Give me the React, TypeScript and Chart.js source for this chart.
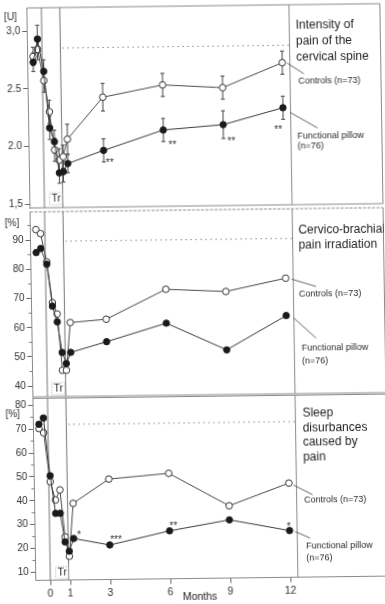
import React, { useEffect, useRef } from 'react';
import { Chart, registerables } from 'chart.js';

Chart.register(...registerables);

const FONT = "'Liberation Sans', Arial, Helvetica, sans-serif";

// ---------------- data ----------------
const MONTHS = [-0.45, -0.22, 0.07, 0.32, 0.55, 0.77, 0.97, 1.2, 3, 6, 9, 12];
const X_TICKS = [0, 1, 3, 6, 9, 12];
const TREATMENT = [0, 0.92];
const CONTROLS_LABEL = 'Controls (n=73)';
const PILLOW_LABEL = ['Functional pillow', '(n=76)'];
const X_TITLE = 'Months';
const TR_LABEL = 'Tr';

// Panel 1: intensity of pain of the cervical spine
const PAIN_TITLE = ['Intensity of', 'pain of the', 'cervical spine'];
const PAIN_UNIT = '[U]';
const PAIN_CONTROLS = [2.78, 2.84, 2.57, 2.3, 1.97, 1.88, 1.91, 2.06, 2.42, 2.52, 2.49, 2.7];
const PAIN_CONTROLS_ERR = [0.08, 0.09, 0.1, 0.1, 0.1, 0.1, 0.1, 0.13, 0.12, 0.1, 0.1, 0.1];
const PAIN_PILLOW = [2.73, 2.93, 2.65, 2.16, 2.04, 1.77, 1.78, 1.85, 1.96, 2.13, 2.17, 2.31];
const PAIN_PILLOW_ERR = [0.08, 0.12, 0.1, 0.1, 0.1, 0.09, 0.09, 0.08, 0.1, 0.1, 0.12, 0.1];
const PAIN_TICKS = [1.5, 2.0, 2.5, 3.0];
const PAIN_TICK_LABELS = ['1,5', '2.0', '2.5', '3,0'];
const PAIN_REF = 2.85;
const PAIN_SIG_MONTHS = [3, 6, 9, 12];
const PAIN_SIG_LABELS = ['**', '**', '**', '**'];

// Panel 2: cervico-brachial pain irradiation
const IRR_TITLE = ['Cervico-brachial', 'pain irradiation'];
const IRR_UNIT = '[%]';
const IRR_CONTROLS = [93.6, 92.2, 82.5, 68.5, 64.6, 45.3, 45.3, 61.6, 62.6, 72.6, 71.6, 75.9];
const IRR_PILLOW = [85.7, 87.1, 81.7, 67.3, 61.9, 51.4, 47.6, 51.4, 54.9, 61.0, 51.6, 63.1];
const IRR_TICKS = [40, 50, 60, 70, 80, 90];
const IRR_TICK_LABELS = ['40', '50', '60', '70', '80', '90'];
const IRR_MINOR = [45, 55, 65, 75, 85, 95];
const IRR_REF = 89.5;

// Panel 3: sleep disturbances caused by pain
const SLEEP_TITLE = ['Sleep', 'disurbances', 'caused by', 'pain'];
const SLEEP_UNIT = '[%]';
const SLEEP_CONTROLS = [70.2, 68.4, 47.9, 40.2, 44.4, 24.7, 16.6, 38.7, 48.7, 50.8, 36.9, 46.1];
const SLEEP_PILLOW = [72.0, 74.6, 50.4, 34.6, 34.6, 22.6, 18.7, 24.0, 21.1, 26.7, 31.0, 26.2];
const SLEEP_TICKS = [10, 20, 30, 40, 50, 60, 70, 80];
const SLEEP_TICK_LABELS = ['10', '20', '30', '40', '50', '60', '70', '80'];
const SLEEP_MINOR = [15, 25, 35, 45, 55, 65, 75];
const SLEEP_REF = 71.8;
const SLEEP_SIG_MONTHS = [1.2, 3, 6, 12];
const SLEEP_SIG_LABELS = ['*', '***', '**', '*'];

// ---------------- layout / style ----------------
const W = 385;
const H = 604;
const PLOT_LEFT = 31.5;
const PLOT_RIGHT = 293.6;
const BOX_RIGHT = 384.5;
const X_MIN = -0.725;
const X_MAX = 12.38;
const BOX_COLOR = '#8a8a8a';
const LINE_COLOR = '#3a3a3a';
const TEXT_COLOR = '#1e1e1e';

type Panel = {
  key: string;
  top: number;
  bottom: number;
  yMin: number;
  yMax: number;
  ticks: number[];
  tickLabels: string[];
  minor: number[];
  controls: number[];
  pillow: number[];
  controlsErr?: number[];
  pillowErr?: number[];
  ref: number;
  sigMonths: number[];
  sigLabels: string[];
  sigOffsets: number[][];
  unit: string;
  unitPos: number[];
  title: string[];
  titleX: number;
  titleY: number[];
  ctrlPos: number[];
  pillowPos: number[];
  leaderC: number[];
  leaderP: number[];
  trPos: number[];
  showX: boolean;
  topDashed: boolean;
};

const PANELS: Panel[] = [
  {
    key: 'pain', top: 6, bottom: 206, yMin: 1.47, yMax: 3.2,
    ticks: PAIN_TICKS, tickLabels: PAIN_TICK_LABELS, minor: [],
    controls: PAIN_CONTROLS, pillow: PAIN_PILLOW,
    controlsErr: PAIN_CONTROLS_ERR, pillowErr: PAIN_PILLOW_ERR,
    ref: PAIN_REF, sigMonths: PAIN_SIG_MONTHS, sigLabels: PAIN_SIG_LABELS,
    sigOffsets: [[6, 10], [9, 12], [8, 14], [-5, 19]],
    unit: PAIN_UNIT, unitPos: [15, 15.6],
    title: PAIN_TITLE, titleX: 300, titleY: [26.3, 42.8, 58.4],
    ctrlPos: [301.8, 82.3], pillowPos: [300, 137.1, 147.8],
    leaderC: [5, 0.5, 307.5, 75.2], leaderP: [7, 4.7, 320.4, 129.6],
    trPos: [57.8, 197], showX: false, topDashed: false,
  },
  {
    key: 'irr', top: 210, bottom: 395, yMin: 36.3, yMax: 99.66,
    ticks: IRR_TICKS, tickLabels: IRR_TICK_LABELS, minor: IRR_MINOR,
    controls: IRR_CONTROLS, pillow: IRR_PILLOW,
    ref: IRR_REF, sigMonths: [], sigLabels: [], sigOffsets: [],
    unit: IRR_UNIT, unitPos: [13.2, 221.4],
    title: IRR_TITLE, titleX: 299.4, titleY: [231.6, 246.6],
    ctrlPos: [299.1, 295.2], pillowPos: [301, 349.5, 362.9],
    leaderC: [6, 1, 316.2, 288], leaderP: [7, 2, 315.4, 339.6],
    trPos: [57, 387], showX: false, topDashed: true,
  },
  {
    key: 'sleep', top: 396.5, bottom: 578.5, yMin: 6.65, yMax: 82.85,
    ticks: SLEEP_TICKS, tickLabels: SLEEP_TICK_LABELS, minor: SLEEP_MINOR,
    controls: SLEEP_CONTROLS, pillow: SLEEP_PILLOW,
    ref: SLEEP_REF, sigMonths: SLEEP_SIG_MONTHS, sigLabels: SLEEP_SIG_LABELS,
    sigOffsets: [[5.4, -5.7], [6.3, -7.6], [4, -8], [-0.7, -7]],
    unit: SLEEP_UNIT, unitPos: [10.9, 412.4],
    title: SLEEP_TITLE, titleX: 300.7, titleY: [414.5, 429.3, 444.1, 458.9],
    ctrlPos: [300.9, 501.9], pillowPos: [302.2, 547.9, 559.5],
    leaderC: [4.5, 2, 309.6, 496.2], leaderP: [5.5, 1, 306.4, 539.5],
    trPos: [58, 571], showX: true, topDashed: false,
  },
];

function seg(ctx: CanvasRenderingContext2D, x1: number, y1: number, x2: number, y2: number) {
  ctx.beginPath();
  ctx.moveTo(x1, y1);
  ctx.lineTo(x2, y2);
  ctx.stroke();
}

function label(ctx: CanvasRenderingContext2D, s: string, x: number, y: number, size: number, align: CanvasTextAlign = 'left', color = TEXT_COLOR) {
  ctx.font = `${size}px ${FONT}`;
  ctx.fillStyle = color;
  ctx.textAlign = align;
  ctx.textBaseline = 'middle';
  ctx.fillText(s, x, y);
}

function decor(p: Panel) {
  return {
    id: 'decor_' + p.key,
    beforeDatasetsDraw(chart: any) {
      const { ctx, chartArea: a, scales } = chart;
      const x = scales.x;
      const y = scales.y;
      ctx.save();
      ctx.strokeStyle = BOX_COLOR;
      ctx.lineWidth = 1;
      // panel frame
      if (p.topDashed) ctx.setLineDash([3, 1.5]);
      seg(ctx, a.left, a.top, BOX_RIGHT, a.top);
      ctx.setLineDash([]);
      seg(ctx, p.showX ? a.right : a.left, a.bottom, BOX_RIGHT, a.bottom);
      seg(ctx, a.right, a.top, a.right, a.bottom);
      seg(ctx, BOX_RIGHT, a.top, BOX_RIGHT, a.bottom);
      // treatment period lines
      ctx.strokeStyle = '#777';
      TREATMENT.forEach((m) => {
        const px = x.getPixelForValue(m);
        seg(ctx, px, a.top, px, a.bottom);
      });
      // reference dotted line
      ctx.strokeStyle = '#8c8c8c';
      ctx.setLineDash([1.5, 3.5]);
      const yr = y.getPixelForValue(p.ref);
      seg(ctx, x.getPixelForValue(TREATMENT[1]) + 2, yr, a.right, yr);
      ctx.setLineDash([]);
      // minor ticks
      ctx.strokeStyle = '#777';
      p.minor.forEach((v) => {
        const py = y.getPixelForValue(v);
        seg(ctx, a.left - 3, py, a.left, py);
      });
      // error bars
      ctx.strokeStyle = '#444';
      const bars = (vals: number[], errs?: number[]) => {
        if (!errs) return;
        vals.forEach((v, i) => {
          const px = x.getPixelForValue(MONTHS[i]);
          const y1 = y.getPixelForValue(v + errs[i]);
          const y2 = y.getPixelForValue(v - errs[i]);
          seg(ctx, px, y1, px, y2);
          seg(ctx, px - 2, y1, px + 2, y1);
          seg(ctx, px - 2, y2, px + 2, y2);
        });
      };
      bars(p.controls, p.controlsErr);
      bars(p.pillow, p.pillowErr);
      ctx.restore();
    },
    afterDraw(chart: any) {
      const { ctx, scales } = chart;
      const x = scales.x;
      const y = scales.y;
      ctx.save();
      // significance marks
      p.sigMonths.forEach((m, i) => {
        const idx = MONTHS.indexOf(m);
        const px = x.getPixelForValue(m) + p.sigOffsets[i][0];
        const py = y.getPixelForValue(p.pillow[idx]) + p.sigOffsets[i][1];
        ctx.font = `10px ${FONT}`;
        ctx.fillStyle = '#333';
        ctx.textAlign = 'center';
        ctx.textBaseline = 'alphabetic';
        ctx.fillText(p.sigLabels[i], px, py + 6);
      });
      // unit
      label(ctx, p.unit, p.unitPos[0], p.unitPos[1], 10, 'center', '#333');
      // Tr label with dotted frame
      label(ctx, TR_LABEL, p.trPos[0], p.trPos[1], 10, 'center', '#222');
      ctx.strokeStyle = '#aaa';
      ctx.setLineDash([1, 1.5]);
      ctx.strokeRect(p.trPos[0] - 6.5, p.trPos[1] - 6, 13, 12);
      ctx.setLineDash([]);
      // titles
      p.title.forEach((t, i) => label(ctx, t, p.titleX, p.titleY[i], 12, 'left', TEXT_COLOR));
      // series labels
      label(ctx, CONTROLS_LABEL, p.ctrlPos[0], p.ctrlPos[1], 9, 'left', '#2a2a2a');
      label(ctx, PILLOW_LABEL[0], p.pillowPos[0], p.pillowPos[1], 9, 'left', '#2a2a2a');
      label(ctx, PILLOW_LABEL[1], p.pillowPos[0], p.pillowPos[2], 9, 'left', '#2a2a2a');
      // leader lines from 12-month points
      const last = MONTHS.length - 1;
      const pxl = x.getPixelForValue(MONTHS[last]);
      ctx.strokeStyle = '#555';
      ctx.lineWidth = 0.9;
      const cy = y.getPixelForValue(p.controls[last]);
      seg(ctx, pxl + p.leaderC[0], cy + p.leaderC[1], p.leaderC[2], p.leaderC[3]);
      const fy = y.getPixelForValue(p.pillow[last]);
      seg(ctx, pxl + p.leaderP[0], fy + p.leaderP[1], p.leaderP[2], p.leaderP[3]);
      if (p.showX) {
        label(ctx, X_TITLE, 195.4, 597, 10.5, 'center', '#222');
      }
      ctx.restore();
    },
  };
}

function buildConfig(p: Panel): any {
  const mk = (vals: number[]) => MONTHS.map((m, i) => ({ x: m, y: vals[i] }));
  return {
    type: 'line',
    data: {
      datasets: [
        {
          label: 'Functional pillow (n=76)',
          data: mk(p.pillow),
          borderColor: LINE_COLOR,
          borderWidth: 1,
          pointRadius: 3.2,
          pointBackgroundColor: '#1a1a1a',
          pointBorderColor: '#1a1a1a',
          pointBorderWidth: 1,
          tension: 0,
        },
        {
          label: 'Controls (n=73)',
          data: mk(p.controls),
          borderColor: '#4a4a4a',
          borderWidth: 1,
          pointRadius: 3.3,
          pointBackgroundColor: '#ffffff',
          pointBorderColor: '#333',
          pointBorderWidth: 1,
          tension: 0,
        },
      ],
    },
    options: {
      responsive: false,
      animation: false,
      devicePixelRatio: 1,
      events: [],
      layout: {
        padding: {
          left: 0,
          right: W - PLOT_RIGHT,
          top: p.top,
          bottom: p.showX ? 0 : H - p.bottom,
        },
      },
      plugins: { legend: { display: false }, tooltip: { enabled: false }, title: { display: false } },
      scales: {
        x: {
          type: 'linear',
          min: X_MIN,
          max: X_MAX,
          display: p.showX,
          afterBuildTicks: (s: any) => {
            s.ticks = X_TICKS.map((v) => ({ value: v }));
          },
          afterFit: (s: any) => {
            if (p.showX) {
              s.height = H - p.bottom;
            } else {
              s.height = 0;
            }
            s.paddingLeft = 0;
            s.paddingRight = 0;
          },
          ticks: {
            callback: (v: number) => String(v),
            font: { family: FONT, size: 10.5 },
            color: '#333',
            padding: 2,
            maxRotation: 0,
            autoSkip: false,
          },
          grid: { drawOnChartArea: false, drawTicks: true, tickLength: 5, tickColor: '#666', color: '#666' },
          border: { display: true, color: BOX_COLOR, width: 1 },
        },
        y: {
          type: 'linear',
          min: p.yMin,
          max: p.yMax,
          afterBuildTicks: (s: any) => {
            s.ticks = p.ticks.map((v) => ({ value: v }));
          },
          afterFit: (s: any) => {
            s.width = PLOT_LEFT;
            s.paddingTop = 0;
            s.paddingBottom = 0;
          },
          ticks: {
            callback: (v: number) => {
              const i = p.ticks.indexOf(v);
              return i >= 0 ? p.tickLabels[i] : '';
            },
            font: { family: FONT, size: 10 },
            color: '#333',
            padding: 2,
            autoSkip: false,
          },
          grid: { drawOnChartArea: false, drawTicks: true, tickLength: 5, tickColor: '#666', color: '#666' },
          border: { display: true, color: BOX_COLOR, width: 1 },
        },
      },
    },
    plugins: [decor(p)],
  };
}

export default function App() {
  const r1 = useRef<HTMLCanvasElement>(null);
  const r2 = useRef<HTMLCanvasElement>(null);
  const r3 = useRef<HTMLCanvasElement>(null);

  useEffect(() => {
    const refs = [r1, r2, r3];
    const charts = PANELS.map((p, i) => new Chart(refs[i].current as HTMLCanvasElement, buildConfig(p)));
    return () => charts.forEach((c) => c.destroy());
  }, []);

  const cs: React.CSSProperties = { position: 'absolute', left: 0, top: 0, width: W, height: H };
  return (
    <div style={{ position: 'fixed', left: 0, top: 0, width: W, height: H, overflow: 'hidden', background: '#fff' }}>
      <div style={{ ...cs, transform: 'skew(0.9deg, -0.7deg)', transformOrigin: '192px 302px' }}>
        <canvas ref={r1} width={W} height={H} style={cs} />
        <canvas ref={r2} width={W} height={H} style={cs} />
        <canvas ref={r3} width={W} height={H} style={cs} />
      </div>
    </div>
  );
}
